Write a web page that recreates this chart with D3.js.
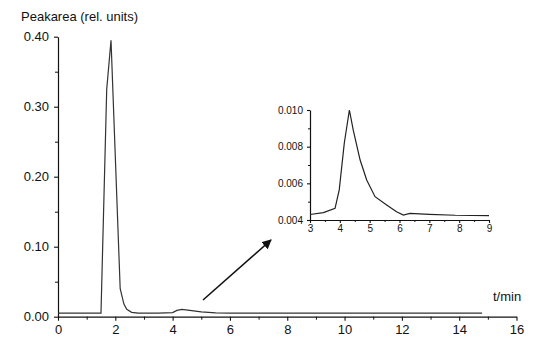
<!DOCTYPE html>
<html><head><meta charset="utf-8">
<script src="https://cdn.jsdelivr.net/npm/d3@7"></script>
<style>body{margin:0;background:#fff;} svg{display:block;font-family:"Liberation Sans",Arial,sans-serif;}</style>
</head><body>
<svg id="c" width="553" height="355"></svg>
<script>
// Main chromatogram
const mainTimes  = [0, 1.5, 1.7, 1.85, 2.17, 2.3, 2.4, 2.57, 2.8, 3.5, 4.0, 4.15, 4.32, 4.6, 5.0, 5.5, 6.0, 8, 10, 12, 14.8];
const mainValues = [0.005, 0.005, 0.325, 0.395, 0.04, 0.018, 0.0105, 0.0062, 0.005, 0.005, 0.0058, 0.009, 0.0105, 0.009, 0.0068, 0.0056, 0.005, 0.005, 0.005, 0.005, 0.005];
const mainXTicks = [0, 2, 4, 6, 8, 10, 12, 14, 16];
const mainYTicks = [0, 0.1, 0.2, 0.3, 0.4];
// Inset (zoom of 3-9 min)
const insetTimes  = [3.0, 3.45, 3.84, 3.98, 4.15, 4.32, 4.45, 4.68, 4.9, 5.18, 5.57, 5.9, 6.13, 6.35, 7.0, 7.87, 9.0];
const insetValues = [0.0043, 0.0044, 0.00464, 0.00564, 0.0082, 0.0100, 0.0089, 0.00727, 0.00618, 0.00527, 0.00482, 0.00445, 0.00427, 0.00436, 0.00431, 0.00426, 0.00424];
const insetXTicks = [3, 4, 5, 6, 7, 8, 9];
const insetYTicks = [0.004, 0.006, 0.008, 0.010];
const yTitle = "Peakarea (rel. units)";
const xTitle = "t/min";

const svg = d3.select("#c");
const ink = "#111";

// main scales
const x = d3.scaleLinear().domain([0, 16]).range([58, 516.5]);
const y = d3.scaleLinear().domain([0, 0.4]).range([316.7, 36.7]);

function styleAxis(g, fs) {
  g.select(".domain").attr("stroke", ink).attr("stroke-width", 1.2);
  g.selectAll(".tick line").attr("stroke", ink).attr("stroke-width", 1.1);
  g.selectAll(".tick text").attr("fill", ink).style("font-size", fs + "px").style("font-family", '"Liberation Sans",Arial,sans-serif');
}

// minor ticks main
const xMinor = d3.range(1, 16, 2);
svg.append("g").attr("transform", `translate(0,${y(0)})`)
  .call(d3.axisBottom(x).tickValues(xMinor).tickSize(3).tickFormat(""))
  .call(g => { g.select(".domain").remove(); g.selectAll("line").attr("stroke", ink); });
const yMinor = d3.range(0.05, 0.4, 0.1);
svg.append("g").attr("transform", `translate(${x(0)},0)`)
  .call(d3.axisLeft(y).tickValues(yMinor).tickSize(3).tickFormat(""))
  .call(g => { g.select(".domain").remove(); g.selectAll("line").attr("stroke", ink); });

const gx = svg.append("g").attr("transform", `translate(0,${y(0)})`)
  .call(d3.axisBottom(x).tickValues(mainXTicks).tickSize(4).tickSizeOuter(0).tickPadding(4).tickFormat(d3.format("d")));
styleAxis(gx, 13);
const gy = svg.append("g").attr("transform", `translate(${x(0)},0)`)
  .call(d3.axisLeft(y).tickValues(mainYTicks).tickSize(4).tickSizeOuter(0).tickPadding(5).tickFormat(d3.format(".2f")));
styleAxis(gy, 13);

svg.append("path").datum(mainTimes.map((t, i) => [t, mainValues[i]]))
  .attr("fill", "none").attr("stroke", "#333").attr("stroke-width", 1.2)
  .attr("d", d3.line().x(d => x(d[0])).y(d => y(d[1])));

svg.append("text").attr("x", 21).attr("y", 21).attr("fill", ink).style("font-size", "13px").text(yTitle);
svg.append("text").attr("x", 493).attr("y", 301).attr("fill", ink).style("font-size", "13px").text(xTitle);

// inset
const xi = d3.scaleLinear().domain([3, 9]).range([310, 489]);
const yi = d3.scaleLinear().domain([0.004, 0.010]).range([220, 110]);
svg.append("g").attr("transform", `translate(0,${yi(0.004)})`)
  .call(d3.axisBottom(xi).tickValues(d3.range(3.5, 9, 1)).tickSize(2).tickFormat(""))
  .call(g => { g.select(".domain").remove(); g.selectAll("line").attr("stroke", ink); });
svg.append("g").attr("transform", `translate(${xi(3)},0)`)
  .call(d3.axisLeft(yi).tickValues([0.005, 0.007, 0.009]).tickSize(2).tickFormat(""))
  .call(g => { g.select(".domain").remove(); g.selectAll("line").attr("stroke", ink); });
const gxi = svg.append("g").attr("transform", `translate(0,${yi(0.004)})`)
  .call(d3.axisBottom(xi).tickValues(insetXTicks).tickSize(3).tickSizeOuter(0).tickPadding(2).tickFormat(d3.format("d")));
styleAxis(gxi, 10);
const gyi = svg.append("g").attr("transform", `translate(${xi(3)},0)`)
  .call(d3.axisLeft(yi).tickValues(insetYTicks).tickSize(3).tickSizeOuter(0).tickPadding(4).tickFormat(d3.format(".3f")));
styleAxis(gyi, 10);

svg.append("path").datum(insetTimes.map((t, i) => [t, insetValues[i]]))
  .attr("fill", "none").attr("stroke", "#222").attr("stroke-width", 1.2)
  .attr("d", d3.line().x(d => xi(d[0])).y(d => yi(d[1])));

// arrow
svg.append("defs").append("marker").attr("id", "ah").attr("viewBox", "0 0 10 10")
  .attr("refX", 9).attr("refY", 5).attr("markerWidth", 6).attr("markerHeight", 6)
  .attr("markerUnits", "strokeWidth").attr("orient", "auto")
  .append("path").attr("d", "M0,0 L10,5 L0,10 Z").attr("fill", ink);
svg.append("line").attr("x1", 203).attr("y1", 300).attr("x2", 271).attr("y2", 240)
  .attr("stroke", ink).attr("stroke-width", 1.6).attr("marker-end", "url(#ah)");
</script>
</body></html>
